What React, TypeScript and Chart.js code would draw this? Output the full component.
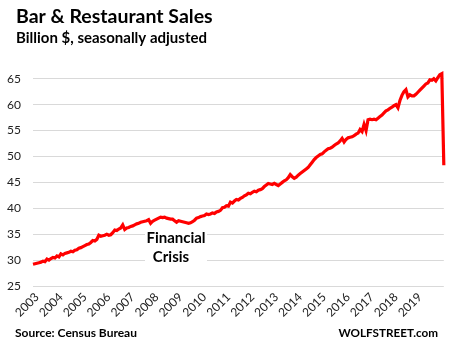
import React, { useEffect, useRef } from "react";
import { Chart, registerables } from "chart.js";

Chart.register(...registerables);

const titleText = "Bar & Restaurant Sales";
const subtitleText = "Billion $, seasonally adjusted";
const sourceText = "Source: Census Bureau";
const brandText = "WOLFSTREET.com";
const noteLines = ["Financial", "Crisis"];

const years = ["2003", "2004", "2005", "2006", "2007", "2008", "2009", "2010", "2011", "2012", "2013", "2014", "2015", "2016", "2017", "2018", "2019"];
const yTicks = [25, 30, 35, 40, 45, 50, 55, 60, 65];

const v2003 = [29.2, 29.3, 29.4, 29.5, 29.6, 29.8, 29.7, 30.2, 30.0, 30.3, 30.5, 30.4];
const v2004 = [30.8, 30.6, 31.2, 31.0, 31.3, 31.4, 31.5, 31.7, 31.6, 31.9, 32.0, 32.3];
const v2005 = [32.4, 32.6, 32.8, 33.0, 33.1, 33.4, 33.8, 33.7, 34.0, 34.8, 34.6, 34.7];
const v2006 = [34.8, 35.0, 34.8, 34.9, 35.3, 35.8, 35.7, 36.0, 36.2, 36.8, 35.9, 36.2];
const v2007 = [36.3, 36.5, 36.6, 36.8, 37.0, 37.1, 37.3, 37.4, 37.5, 37.6, 37.8, 37.1];
const v2008 = [37.5, 37.7, 37.9, 38.1, 38.3, 38.2, 38.3, 38.1, 38.0, 37.9, 37.9, 37.6];
const v2009 = [37.3, 37.6, 37.5, 37.4, 37.3, 37.2, 37.1, 37.2, 37.4, 37.7, 38.1, 38.2];
const v2010 = [38.4, 38.5, 38.6, 38.9, 38.8, 38.9, 39.1, 39.0, 39.3, 39.4, 39.6, 40.1];
const v2011 = [40.2, 40.5, 40.4, 41.2, 41.0, 41.4, 41.7, 41.6, 41.9, 42.1, 42.4, 42.6];
const v2012 = [42.9, 42.8, 43.1, 43.3, 43.2, 43.5, 43.6, 43.8, 44.2, 44.5, 44.8, 44.7];
const v2013 = [44.6, 44.8, 44.6, 44.4, 44.7, 45.0, 45.3, 45.5, 45.9, 46.5, 46.1, 45.8];
const v2014 = [46.0, 46.4, 46.7, 47.0, 47.3, 47.6, 47.9, 48.4, 48.9, 49.4, 49.8, 50.1];
const v2015 = [50.4, 50.5, 50.9, 51.2, 51.5, 51.6, 51.8, 52.1, 52.4, 52.6, 53.0, 53.5];
const v2016 = [52.8, 53.3, 53.6, 53.7, 53.8, 54.0, 54.3, 54.5, 55.2, 54.8, 56.2, 55.0];
const v2017 = [57.1, 57.2, 57.1, 57.2, 57.1, 57.4, 57.7, 58.0, 58.4, 58.8, 59.0, 59.3];
const v2018 = [59.5, 59.8, 60.0, 59.4, 60.8, 61.8, 62.5, 62.9, 61.5, 61.9, 61.7, 61.7];
const v2019 = [62.0, 62.4, 62.8, 63.2, 63.6, 64.0, 64.2, 64.8, 64.7, 65.0, 64.6, 65.2];
const v2020 = [65.8, 66.0, 48.3];

const sales = [
  ...v2003, ...v2004, ...v2005, ...v2006, ...v2007, ...v2008, ...v2009, ...v2010, ...v2011,
  ...v2012, ...v2013, ...v2014, ...v2015, ...v2016, ...v2017, ...v2018, ...v2019, ...v2020,
];

const monthLabels = sales.map((_, i) => `${2003 + Math.floor(i / 12)}-${String((i % 12) + 1).padStart(2, "0")}`);

const FONT = "Lato, 'Open Sans', sans-serif";

const textPlugin = {
  id: "texts",
  beforeDatasetsDraw(chart: any) {
    const { ctx } = chart;
    ctx.save();
    ctx.fillStyle = "#ffffff";
    ctx.fillRect(145, 227, 62, 40);
    ctx.fillStyle = "#000000";
    ctx.font = `bold 15px ${FONT}`;
    ctx.textAlign = "center";
    ctx.textBaseline = "alphabetic";
    ctx.fillText(noteLines[0], 176, 243);
    ctx.fillText(noteLines[1], 171, 262);
    ctx.restore();
  },
  afterDraw(chart: any) {
    const { ctx } = chart;
    ctx.save();
    ctx.fillStyle = "#000000";
    ctx.textAlign = "left";
    ctx.textBaseline = "alphabetic";
    ctx.font = `bold 19.5px ${FONT}`;
    ctx.fillText(titleText, 16, 23);
    ctx.font = `bold 15px ${FONT}`;
    ctx.fillText(subtitleText, 16, 43);
    ctx.font = `bold 12px ${FONT}`;
    ctx.fillText(sourceText, 15, 337);
    ctx.textAlign = "right";
    ctx.font = `bold 11.7px ${FONT}`;
    ctx.fillText(brandText, 438, 337);
    ctx.restore();
  },
};

export default function App() {
  const ref = useRef<HTMLCanvasElement | null>(null);
  useEffect(() => {
    if (!ref.current) return;
    const chart = new Chart(ref.current, {
      type: "line",
      data: {
        labels: monthLabels,
        datasets: [
          {
            data: sales,
            borderColor: "#ff0000",
            borderWidth: 3.2,
            pointRadius: 0,
            tension: 0,
            fill: false,
            clip: false,
          },
        ],
      },
      options: {
        responsive: false,
        animation: false,
        devicePixelRatio: 1,
        layout: { padding: { top: 71, right: 6, left: 0, bottom: 0 } },
        plugins: {
          legend: { display: false },
          tooltip: { enabled: false },
          title: { display: false },
        },
        scales: {
          x: {
            type: "category",
            offset: false,
            grid: { display: false, drawTicks: false },
            border: { display: false },
            afterFit: (s: any) => {
              s.height = 60;
            },
            ticks: {
              autoSkip: false,
              maxRotation: 45,
              minRotation: 45,
              padding: 4,
              labelOffset: 4,
              color: "#222222",
              font: { family: FONT, size: 12 },
              callback: (_v: any, idx: number) => (idx % 12 === 0 && years[idx / 12] ? years[idx / 12] : ""),
            },
          },
          y: {
            min: 25,
            max: 66.5,
            grid: { color: "#d9d9d9", lineWidth: 1, drawTicks: false },
            border: { display: false },
            afterBuildTicks: (s: any) => {
              s.ticks = yTicks.map((v) => ({ value: v }));
            },
            afterFit: (s: any) => {
              s.width = 33;
            },
            ticks: {
              stepSize: 5,
              padding: 12,
              color: "#222222",
              font: { family: FONT, size: 12 },
            },
          },
        },
      },
      plugins: [textPlugin],
    });
    return () => chart.destroy();
  }, []);
  return (
    <div style={{ position: "absolute", left: 0, top: 0, width: 458, height: 346, background: "#fff" }}>
      <canvas ref={ref} width={458} height={346} />
    </div>
  );
}
